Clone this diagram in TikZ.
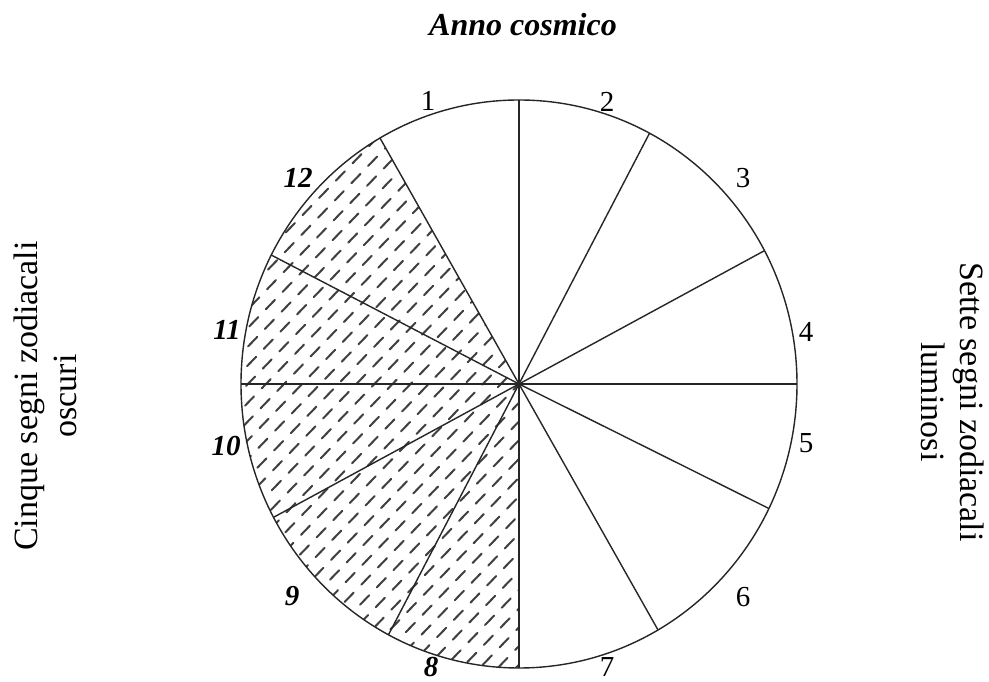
\documentclass[tikz,border=0pt]{standalone}
\usepackage{fontspec}
\setmainfont{Liberation Serif}
\begin{document}
\begin{tikzpicture}[x=1pt,y=1pt]
\tikzset{
  rim/.style={line width=1.4pt, draw=black!85},
  ray/.style={line width=1.4pt, draw=black!85},
  hatchline/.style={line width=2pt, draw=black!75, line cap=round},
  lab/.style={inner sep=0pt, font=\fontsize{29}{34}\selectfont},
  blab/.style={inner sep=0pt, font=\fontsize{29}{34}\selectfont\bfseries\itshape},
  side/.style={inner sep=0pt, align=center, font=\fontsize{34}{39}\selectfont}
}
\useasboundingbox (0,0) rectangle (989,682);
\fill[white] (0,0) rectangle (989,682);
\coordinate (C) at (519,298);
% hatched sector (signs 8-12)
\begin{scope}
  \clip (C) -- ++(120:278 and 284) arc[start angle=120, end angle=270, x radius=278, y radius=284] -- cycle;
  \begin{scope}[shift={(C)}, rotate=46]
    \foreach \k [evaluate=\k as \ph using {mod(\k*9+240,24)}] in {-24,...,24}
      \draw[hatchline, dash pattern=on 13pt off 11pt, dash phase=\ph pt] (-320,\k*13) -- (320,\k*13);
  \end{scope}
\end{scope}
% rim
\draw[rim] (C) ellipse[x radius=278, y radius=284];
% rays
\foreach \a [count=\i] in {90,62,28,0,-26,-60,-90,-118,-152,180,153,120} {
  \coordinate (e\i) at ([shift={(\a:278 and 284)}]C);
}
\foreach \i in {1,...,12} \draw[ray] (C) -- (e\i);
% labels
\node[lab] (n1) at (428,581) {1};
\node[lab] (n2) at (607,580) {2};
\node[lab] (n3) at (743,504) {3};
\node[lab] (n4) at (806,350) {4};
\node[lab] (n5) at (806,239) {5};
\node[lab] (n6) at (743,85) {6};
\node[lab] (n7) at (607,15) {7};
\node[blab] (n8) at (431,15) {8};
\node[blab] (n9) at (292,86) {9};
\node[blab] (n10) at (226,236) {10};
\node[blab] (n11) at (227,352) {11};
\node[blab] (n12) at (298,504) {12};
% title
\node[inner sep=0pt, anchor=base, font=\fontsize{32}{38}\selectfont\bfseries\itshape] (title) at (523,646) {Anno cosmico};
% side texts
\node[side, rotate=90] (left) at (45,286) {Cinque segni zodiacali\\oscuri};
\node[side, rotate=-90] (right) at (953,280) {Sette segni zodiacali\\luminosi};
\end{tikzpicture}
\end{document}
